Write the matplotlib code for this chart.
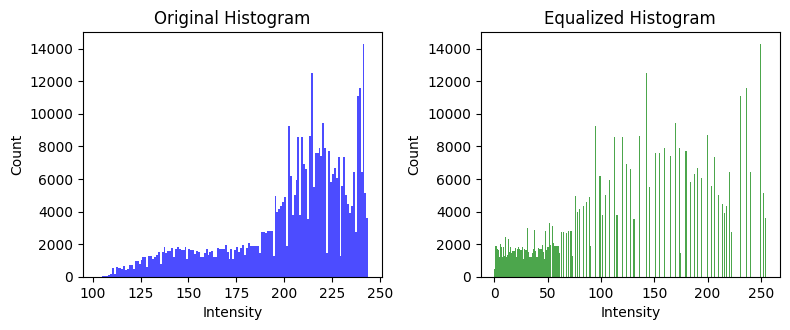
import numpy as np
import matplotlib
matplotlib.use("Agg")
import matplotlib.pyplot as plt

# Original intensity levels (integer grey values) and their pixel counts
levels = list(range(102, 244))
counts = [
    5, 10, 20, 30, 40, 80, 110, 160, 573, 184,          # 102-111
    614, 552, 552, 511, 675, 409, 511, 736, 736, 511,   # 112-121
    1002, 1002, 798, 1043, 1227, 1227, 614, 1268, 1309, 1125,  # 122-131
    1247, 1350, 1534, 798, 1534, 1840, 1493, 1575, 1616, 1779,  # 132-141
    1227, 1697, 1840, 1738, 1656, 1656, 1840, 1104, 1718, 1656,  # 142-151
    1636, 1431, 1595, 1534, 1227, 1227, 1493, 1718, 1350, 1513,  # 152-161
    1616, 1247, 1247, 1759, 1697, 1718, 1718, 1963, 1554, 1084,  # 162-171
    1700, 1100, 1650, 1860, 1500, 1800, 1960, 1350, 1800, 2065,  # 172-181
    1900, 1920, 1880, 1900, 1880, 1490, 2760, 2760, 2700, 2800,  # 182-191
    2820, 2820, 1290, 4970, 3990, 4170, 4360, 4600, 4870, 1900,  # 192-201
    9260, 6200, 3800, 5050, 5950, 8590, 3800, 8590, 6930, 6600,  # 202-211
    3560, 8650, 12520, 5520, 7610, 7610, 7910, 7420, 9450, 7910,  # 212-221
    1470, 7730, 5830, 6320, 6690, 6070, 7360, 1310, 5580, 7360,  # 222-231
    4990, 4480, 3930, 4360, 6440, 2780, 11120, 11600, 6440, 14300,  # 232-241
    5150, 3620,                                          # 242-243
]

# Equalized grey level that each original level ends up at
eq_levels = [
    0, 0, 0, 0, 0, 0, 0, 0, 1, 1,            # 102-111
    1, 1, 2, 2, 2, 3, 3, 3, 4, 4,            # 112-121
    5, 5, 6, 6, 7, 8, 8, 9, 10, 10,          # 122-131
    11, 12, 13, 13, 14, 15, 16, 17, 18, 19,  # 132-141
    20, 21, 22, 23, 24, 25, 26, 27, 28, 29,  # 142-151
    30, 31, 31, 32, 33, 34, 35, 36, 37, 37,  # 152-161
    38, 39, 40, 41, 42, 43, 44, 45, 46, 47,  # 162-171
    48, 48, 49, 50, 51, 51, 52, 54, 54, 55,  # 172-181
    56, 57, 58, 59, 60, 61, 63, 65, 67, 69,  # 182-191
    71, 72, 73, 76, 78, 80, 83, 86, 89, 90,  # 192-201
    95, 99, 101, 104, 108, 113, 115, 120, 124, 128,        # 202-211
    131, 136, 143, 146, 151, 155, 160, 165, 170, 174,      # 212-221
    175, 180, 184, 188, 191, 195, 200, 200, 204, 207,      # 222-231
    211, 214, 216, 218, 221, 223, 231, 237, 241, 250,      # 232-241
    253, 255,                                              # 242-243
]

fig, (ax1, ax2) = plt.subplots(1, 2, figsize=(7.9, 3.3), dpi=100)
fig.subplots_adjust(left=0.105, right=0.987, bottom=0.161, top=0.903, wspace=0.331)

ax1.hist(levels, bins=np.arange(102, 245), weights=counts, color='blue', alpha=0.7)
ax1.set_title('Original Histogram')
ax1.set_xlabel('Intensity')
ax1.set_ylabel('Count')

ax2.hist(eq_levels, bins=256, range=(0, 255), weights=counts, color='green', alpha=0.7)
ax2.set_title('Equalized Histogram')
ax2.set_xlabel('Intensity')
ax2.set_ylabel('Count')

fig.savefig('out.png', dpi=100)
